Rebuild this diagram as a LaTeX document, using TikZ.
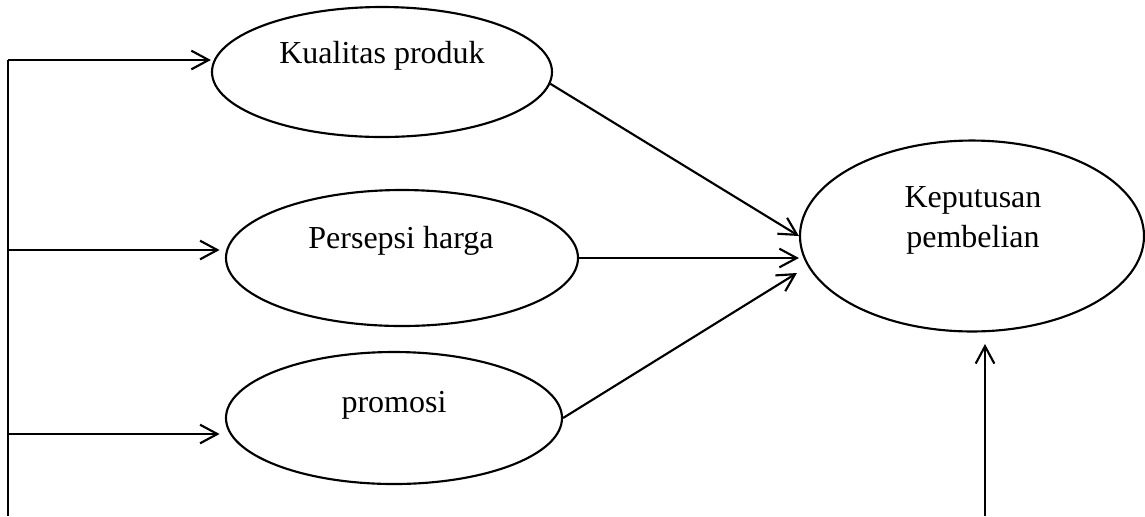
\documentclass[tikz,border=0pt]{standalone}
\usepackage{fontspec}
\setmainfont{Liberation Serif}
\usetikzlibrary{arrows.meta,shapes.geometric,calc}

\begin{document}
\begin{tikzpicture}[
  x=0.375pt, y=-0.375pt,
  line width=0.8pt,
  var/.style={ellipse, draw, inner sep=0pt},
  lbl/.style={font=\fontsize{12pt}{15pt}\selectfont, inner sep=0pt, anchor=base, align=center},
  arr/.style={-{Straight Barb[length=6.5pt,width=7pt]}}
]
\useasboundingbox (0,0) rectangle (1145,516);
% variables
\node[var, minimum width=127.5pt, minimum height=48.75pt] (kq) at (382,72) {};
\node[var, minimum width=132pt, minimum height=51pt] (ph) at (402,258) {};
\node[var, minimum width=126pt, minimum height=49.5pt] (pr) at (394,418) {};
\node[var, minimum width=129pt, minimum height=71.6pt] (kb) at (972,236) {};
\node[lbl] (kq-t) at (382,63) {Kualitas produk};
\node[lbl] (ph-t) at (401,248) {Persepsi harga};
\node[lbl] (pr-t) at (394,412) {promosi};
\node[lbl] (kb-t) at (973,247) {Keputusan\\pembelian};
% left bar
\coordinate (top) at (8,60);
\coordinate (bot) at (8,516);
\coordinate (s2) at (8,250);
\coordinate (s3) at (8,434);
\draw (top) -- (bot);
\draw[arr] (top) -- (top -| kq.west);
\draw[arr, shorten >=2pt] (s2) -- (s2 -| ph.west);
\draw[arr, shorten >=2pt] (s3) -- (s3 -| pr.west);
% into keputusan
\draw[arr] (kq.-4) -- (kb.west);
\draw[arr] (ph.east) -- (ph.east -| kb.west);
\draw[arr] (pr.east) -- ([shift={(-2,37)}]kb.west);
\coordinate (fb) at (985,516);
\draw[arr, shorten >=4.3pt] (fb) -- (fb |- kb.south);
\end{tikzpicture}
\end{document}
